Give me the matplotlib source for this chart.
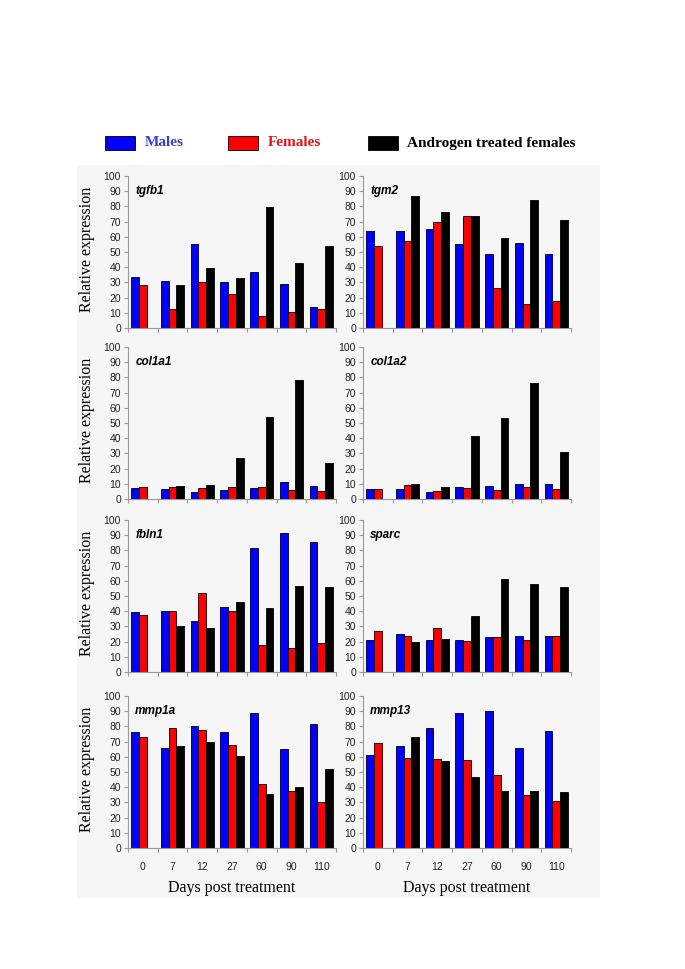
import matplotlib
matplotlib.use('Agg')
import matplotlib.pyplot as plt
import numpy as np
from matplotlib.patches import Rectangle

days = ['0', '7', '12', '27', '60', '90', '110']
genes = ['tgfb1', 'tgm2', 'col1a1', 'col1a2', 'fbln1', 'sparc', 'mmp1a', 'mmp13']

# Males, Females, Androgen treated females (nan = no bar)
males = {
  'tgfb1': [33.3, 31, 55, 30.4, 37, 29, 13.5],
  'tgm2': [64, 64, 65, 55, 48.5, 56, 48.5],
  'col1a1': [7.5, 6.5, 4.5, 6, 7, 11, 8.5],
  'col1a2': [6.6, 6.6, 4.4, 7.7, 8.8, 10, 10],
  'fbln1': [39.6, 40.4, 33.4, 42.9, 81.3, 91.2, 85.7],
  'sparc': [21.3, 25, 21.3, 20.9, 23, 23.5, 23.5],
  'mmp1a': [76, 66, 80.5, 76, 89, 65, 81.5],
  'mmp13': [61.5, 67, 79, 89, 90, 66, 77],
}
females = {
  'tgfb1': [28.2, 12.2, 30, 22.5, 8, 10.5, 12.5],
  'tgm2': [54, 57, 70, 73.5, 26, 16, 18],
  'col1a1': [7.7, 7.7, 7, 7.7, 8, 6, 5.3],
  'col1a2': [6.6, 9, 5.5, 7.3, 6, 7.7, 6.6],
  'fbln1': [37.8, 40.4, 52.3, 40, 17.6, 15.8, 19.3],
  'sparc': [26.8, 23.7, 29.2, 20.4, 23, 21.3, 24],
  'mmp1a': [73, 79, 77.5, 68, 42, 37.5, 30.5],
  'mmp13': [69, 59, 58.5, 58, 48, 35, 31],
}
treated = {
  'tgfb1': [np.nan, 28, 39.3, 33, 79.5, 43, 54],
  'tgm2': [np.nan, 87, 76, 74, 59, 84.5, 71],
  'col1a1': [np.nan, 8.5, 9, 27, 54, 78, 24],
  'col1a2': [np.nan, 10, 7.7, 41.5, 53.5, 76, 31],
  'fbln1': [np.nan, 30.3, 29.2, 46, 41.8, 56.7, 55.8],
  'sparc': [np.nan, 19.8, 22, 36.7, 61, 58.2, 55.6],
  'mmp1a': [np.nan, 67, 69.5, 60.5, 35.5, 40, 52],
  'mmp13': [np.nan, 73, 57, 46.5, 37.5, 37.5, 37],
}

tickfont = ['Liberation Sans Narrow', 'Liberation Sans', 'DejaVu Sans']
serif = ['Liberation Serif', 'DejaVu Serif']

fig = plt.figure(figsize=(6.85, 9.69), dpi=100)
W, H = 685.0, 969.0

# faint grey panel behind the charts
fig.patches.append(Rectangle((77/W, 1-898/H), (600-77)/W, (898-165)/H,
                             transform=fig.transFigure, facecolor='#f6f6f6',
                             edgecolor='none', zorder=-5))

lefts = [128/W, 363/W]
bottoms = [1-328/H, 1-499/H, 1-672/H, 1-848/H]
aw, ah = 208/W, 152/H
x = np.arange(len(days))
bw = 0.26

for k, g in enumerate(genes):
  r, c = divmod(k, 2)
  ax = fig.add_axes([lefts[c], bottoms[r], aw, ah])
  ax.set_facecolor('none')
  ax.bar(x-bw, males[g], bw, color='#0000ff', edgecolor='black', linewidth=0.6)
  ax.bar(x, females[g], bw, color='#ff0000', edgecolor='black', linewidth=0.6)
  ax.bar(x+bw, treated[g], bw, color='black', edgecolor='black', linewidth=0.6)
  ax.set_xlim(-0.5, 6.5)
  ax.set_ylim(0, 100)
  ax.set_yticks(np.arange(0, 101, 10))
  for s in ['top', 'right']:
    ax.spines[s].set_visible(False)
  for s in ['left', 'bottom']:
    ax.spines[s].set_color('#9a9a9a')
    ax.spines[s].set_linewidth(0.8)
  ax.tick_params(axis='y', length=3, width=0.8, color='#9a9a9a', pad=2,
                 labelsize=7.5, labelcolor='#222222')
  ax.set_xticks(x)
  ax.set_xticks(np.arange(-0.5, 7, 1), minor=True)
  ax.tick_params(axis='x', which='major', length=0, pad=10, labelsize=7.5,
                 labelcolor='#222222')
  ax.tick_params(axis='x', which='minor', length=3, width=0.8, color='#9a9a9a')
  for lab in ax.get_yticklabels():
    lab.set_family(tickfont)
  if r == 3:
    ax.set_xticklabels(days, family=tickfont)
    ax.set_xlabel('Days post treatment', family=serif, fontsize=11.5, labelpad=6)
  else:
    ax.set_xticklabels([])
  if c == 0:
    ax.set_ylabel('Relative expression', family=serif, fontsize=11.5)
    ax.yaxis.set_label_coords(-0.16, 0.52)
  ax.text(0.035, 0.9, g, transform=ax.transAxes, va='center', ha='left',
          fontsize=8.5, fontweight='bold', style='italic',
          family=['Liberation Sans', 'DejaVu Sans'])

# legend across the top
leg = [('Males', '#0000ff', '#3c3cdc', 105, 145),
       ('Females', '#ff0000', '#e01515', 228, 268),
       ('Androgen treated females', 'black', 'black', 368, 407)]
for name, fc, tc, px, tx in leg:
  fig.patches.append(Rectangle((px/W, 1-150/H), 30/W, 14/H, transform=fig.transFigure,
                               facecolor=fc, edgecolor='black', linewidth=0.6))
  fig.text(tx/W, 1-143/H, name, color=tc, family=serif, fontweight='bold',
           fontsize=11, va='center', ha='left')

fig.savefig('out.png', dpi=100)
